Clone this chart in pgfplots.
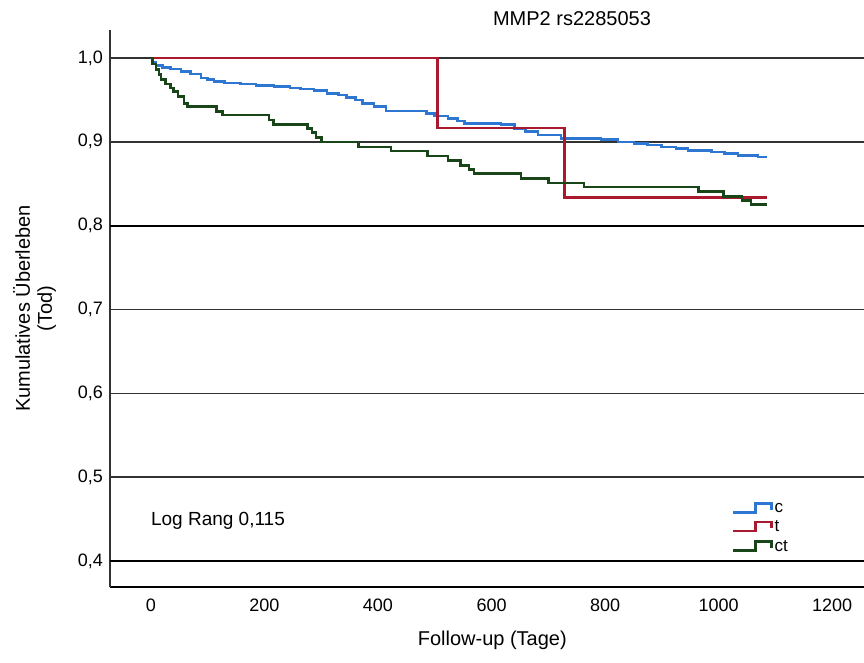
\documentclass[border=0pt]{standalone}
\usepackage{fontspec}
\setmainfont{Liberation Sans}
\usepackage{pgfplots}
\pgfplotsset{compat=1.18}
\definecolor{cBlue}{RGB}{45,118,210}
\definecolor{cRed}{RGB}{170,25,45}
\definecolor{cGreen}{RGB}{25,70,25}
\definecolor{gridgray}{RGB}{50,50,50}

\begin{document}
\begin{tikzpicture}
\useasboundingbox (-110pt,-75pt) rectangle (754pt,587pt);
\begin{axis}[
  at={(0pt,0pt)}, anchor=south west,
  scale only axis, width=754pt, height=557pt,
  xmin=-72, xmax=1256, ymin=0.369, ymax=1.0334,
  axis lines=left,
  axis line style={-, gridgray, line width=1.4pt},
  x axis line style={black, line width=2pt},
  xtick={0,200,400,600,800,1000,1200},
  xticklabels={0,200,400,600,800,1000,1200},
  ytick={0.4,0.5,0.6,0.7,0.8,0.9,1.0},
  yticklabels={{0,4},{0,5},{0,6},{0,7},{0,8},{0,9},{1,0}},
  major tick length=0pt,
  ymajorgrids,
  grid style={gridgray, line width=1.4pt},
  extra y ticks={0.4,0.8},
  extra y tick labels={},
  extra y tick style={grid style={black, line width=2.2pt}},
  tick label style={font=\fontsize{18}{20}\selectfont},
  xticklabel style={inner sep=0pt, anchor=north, yshift=-12pt},
  yticklabel style={inner sep=0pt, anchor=east, xshift=-7pt},
  xlabel={Follow-up (Tage)},
  xlabel style={at={(axis description cs:0.507,-0.095)}, anchor=center,
    font=\fontsize{20}{24}\selectfont},
  ylabel={Kumulatives Überleben\\(Tod)},
  ylabel style={at={(axis description cs:-0.1,0.5)}, anchor=center,
    align=center, font=\fontsize{20}{22}\selectfont},
  legend style={at={(axis cs:1018,0.474)}, anchor=north west, draw=none,
    fill=none, font=\fontsize{17}{19}\selectfont, row sep=3pt},
  legend cell align=left,
  legend image code/.code={
    \draw[#1] (0pt,-4pt) -- (22pt,-4pt) -- (22pt,5pt) -- (38pt,5pt) -- (38pt,-1pt);},
]
% c
\addplot[const plot, cBlue, line width=2.6pt] coordinates {
  (0,1.000) (3,0.995) (9,0.991) (20,0.989) (35,0.987) (53,0.984)
  (70,0.981) (88,0.976) (100,0.974) (111,0.972) (130,0.970) (158,0.969)
  (185,0.967) (217,0.966) (245,0.964) (264,0.963) (287,0.961) (310,0.958)
  (330,0.956) (345,0.953) (360,0.950) (373,0.946) (393,0.942) (414,0.937)
  (485,0.934) (499,0.931) (523,0.928) (540,0.925) (552,0.922) (617,0.921)
  (640,0.916) (660,0.912) (682,0.908) (722,0.904) (793,0.903) (823,0.900)
  (851,0.898) (875,0.896) (899,0.894) (925,0.892) (946,0.890) (987,0.888)
  (1010,0.886) (1034,0.884) (1069,0.882) (1086,0.882)
};
\addlegendentry{c}
% t
\addplot[const plot, cRed, line width=2.6pt] coordinates {
  (0,1.000) (505,0.9167) (729,0.8333) (1086,0.8333)
};
\addlegendentry{t}
% ct
\addplot[const plot, cGreen, line width=2.6pt] coordinates {
  (0,1.000) (3,0.993) (9,0.986) (14,0.980) (18,0.974) (26,0.969)
  (35,0.964) (40,0.960) (48,0.954) (58,0.946) (65,0.942) (116,0.936)
  (126,0.932) (208,0.926) (216,0.921) (276,0.916) (284,0.911) (291,0.905)
  (300,0.900) (366,0.894) (423,0.889) (487,0.883) (523,0.878) (545,0.872)
  (560,0.867) (569,0.862) (652,0.856) (700,0.851) (763,0.846) (964,0.841)
  (1008,0.835) (1041,0.830) (1057,0.825) (1086,0.825)
};
\addlegendentry{ct}
\node[anchor=west, inner sep=0pt, font=\fontsize{19}{22}\selectfont]
  at (axis cs:0,0.4475) {Log Rang 0,115};
\end{axis}
\node[anchor=center, font=\fontsize{20}{24}\selectfont] at (462pt,568pt) {MMP2 rs2285053};
\end{tikzpicture}
\end{document}
